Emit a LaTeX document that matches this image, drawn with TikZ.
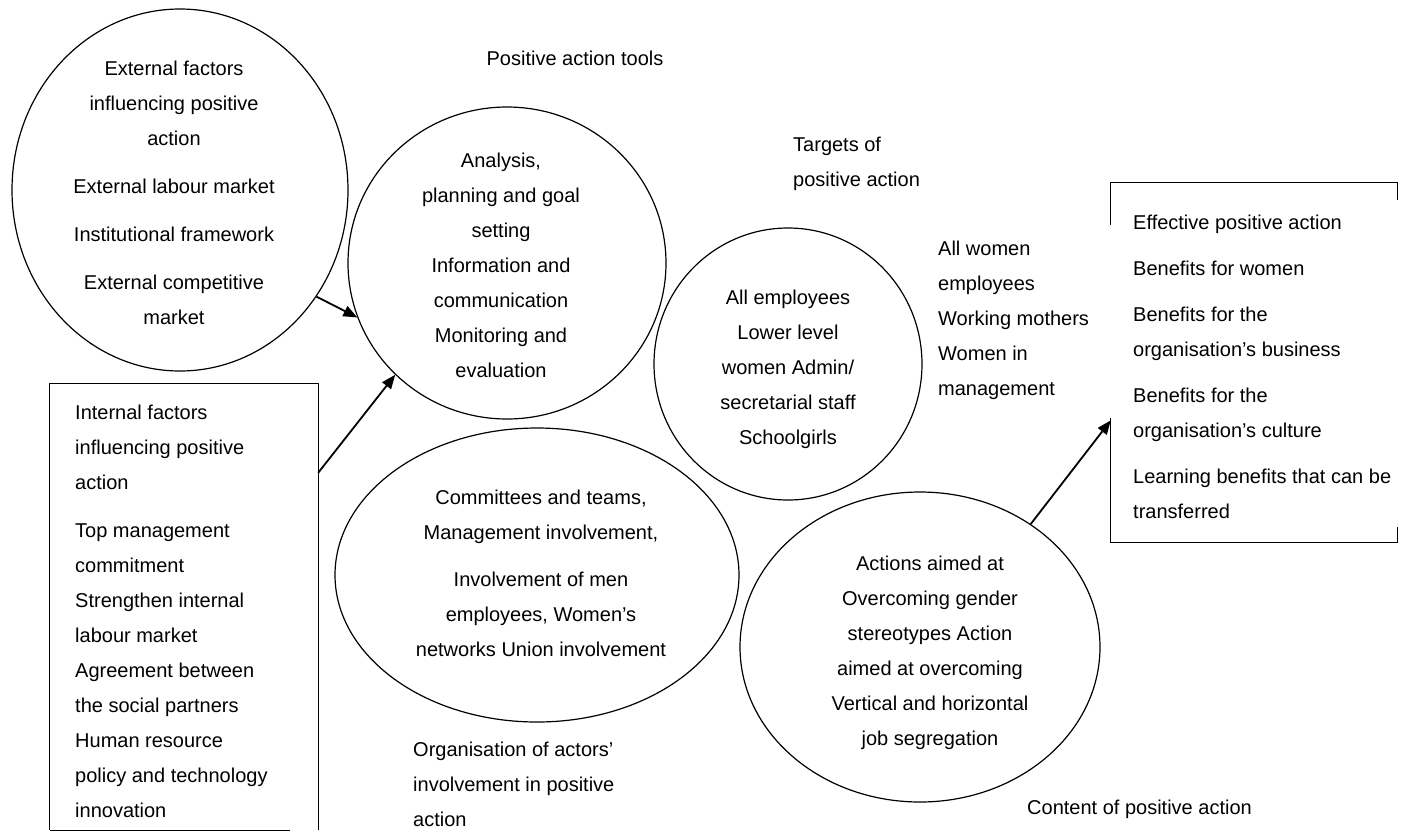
\documentclass[tikz,border=0pt]{standalone}
\usepackage{fontspec}
\setmainfont{Liberation Sans}
\usetikzlibrary{shapes.geometric,arrows.meta,calc}
\begin{document}
\begin{tikzpicture}[x=1pt,y=-1pt,
  oval/.style={ellipse,draw,line width=1.2pt,inner sep=0pt},
  area/.style={rectangle,inner sep=0pt},
  boxline/.style={line width=1.3pt},
  lbl/.style={inner sep=0pt,font=\fontsize{20}{35}\selectfont},
  conn/.style={line width=1.8pt,-{Triangle[length=14pt,width=11pt]}}]
\fill[white] (0,0) rectangle (1403,831);
\useasboundingbox (0,0) rectangle (1403,831);

% shapes
\node[oval,minimum width=336pt,minimum height=362pt] (ext) at (180,190) {};
\node[oval,minimum width=318pt,minimum height=312pt] (tools) at (507,263) {};
\node[oval,minimum width=268pt,minimum height=272pt] (targets) at (788,364) {};
\node[oval,minimum width=404pt,minimum height=294pt] (actors) at (537,575) {};
\node[oval,minimum width=360pt,minimum height=310pt] (content) at (920,647) {};
\node[area,minimum width=268pt,minimum height=446pt] (intbox) at (184,607) {};
\node[area,minimum width=286pt,minimum height=359pt] (resbox) at (1254,362.5) {};

% internal box frame
\draw[boxline] (intbox.south west) -- ++(240,0);
\draw[boxline] (intbox.south east) -- (intbox.north east) -- (intbox.north west) -- (intbox.south west);
% result box frame (as printed)
\draw[boxline] (resbox.north west) ++(0,42) -- (resbox.north west) -- (resbox.north east) -- ++(0,17);
\draw[boxline] (resbox.south west) ++(0,-124) -- (resbox.south west) -- (resbox.south east) -- ++(0,-15);

% texts
\node[lbl,align=center,anchor=north] (exttext) at (174,61)
  {External factors\\influencing positive\\action\\[13pt]External labour market\\[13pt]Institutional framework\\[13pt]External competitive\\market};
\node[lbl,anchor=base] (toolstitle) at (575,65) {Positive action tools};
\node[lbl,align=center,anchor=north] (toolstext) at (501,153)
  {Analysis,\\planning and goal\\setting\\Information and\\communication\\Monitoring and\\evaluation};
\node[lbl,align=left,anchor=north west] (targetstitle) at (793,137) {Targets of\\positive action};
\node[lbl,align=center,anchor=north] (targetstext) at (788,290)
  {All employees\\Lower level\\women Admin/\\secretarial staff\\Schoolgirls};
\node[lbl,align=left,anchor=north west] (women) at (938,241)
  {All women\\employees\\Working mothers\\Women in\\management};
\node[lbl,align=left,anchor=north west] (restext) at (1133,215)
  {Effective positive action\\[11pt]Benefits for women\\[11pt]Benefits for the\\organisation’s business\\[11pt]Benefits for the\\organisation’s culture\\[11pt]Learning benefits that can be\\transferred};
\node[lbl,align=center,anchor=north] (actorstext) at (541,490)
  {Committees and teams,\\Management involvement,\\[12pt]Involvement of men\\employees, Women’s\\networks Union involvement};
\node[lbl,align=left,anchor=north west] (actorstitle) at (413,742)
  {Organisation of actors’\\involvement in positive\\action};
\node[lbl,align=center,anchor=north] (contenttext) at (930,556)
  {Actions aimed at\\Overcoming gender\\stereotypes Action\\aimed at overcoming\\Vertical and horizontal\\job segregation};
\node[lbl,anchor=base west] (contenttitle) at (1027,814) {Content of positive action};
\node[lbl,align=left,anchor=north west] (inttext) at (75,405)
  {Internal factors\\influencing positive\\action\\[13pt]Top management\\commitment\\Strengthen internal\\labour market\\Agreement between\\the social partners\\Human resource\\policy and technology\\innovation};

% connectors
\draw[conn] (ext.-38) -- (tools.200);
\draw[conn] (intbox.45.6) -- (tools.225.3);
\draw[conn] (content.48) -- (resbox.202);
\end{tikzpicture}
\end{document}
